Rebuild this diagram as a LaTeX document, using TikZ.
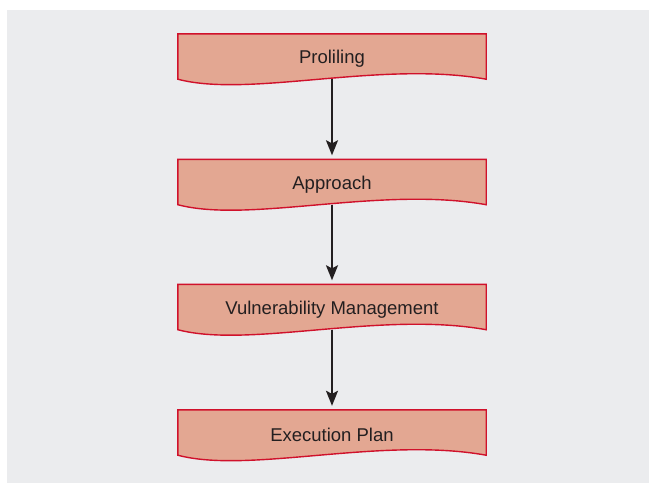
\documentclass[tikz,border=0pt]{standalone}
\usepackage{fontspec}
\setmainfont{Liberation Sans}
\usetikzlibrary{arrows.meta}
\definecolor{bggray}{HTML}{EBECEE}
\definecolor{boxfill}{HTML}{E3A792}
\definecolor{boxline}{HTML}{D0112B}
\definecolor{txt}{HTML}{231F20}
\tikzset{
  docbox/.style={draw=none, minimum width=308pt, minimum height=45pt, inner sep=0pt,
    font=\fontsize{18.5}{22}\selectfont, text=txt},
  doclabel/.style={docbox, yshift=-2.5pt},
  docshape/.style={fill=boxfill, draw=boxline, line width=1.4pt, line join=miter},
  flow/.style={draw=txt, line width=1.8pt, -{Stealth[length=15pt,width=12pt,inset=3pt]}, shorten >=4pt}
}
\newcommand{\docpath}[1]{%
  \path[docshape] (#1.south west) -- (#1.north west) -- (#1.north east) -- (#1.south east)
    .. controls ([xshift=-106pt,yshift=19pt]#1.south east) and ([xshift=72pt,yshift=-19pt]#1.south west) .. (#1.south west) -- cycle;}
\begin{document}
\begin{tikzpicture}[x=1pt,y=-1pt]
\useasboundingbox (0,0) rectangle (650,483);
\fill[bggray] (7,10) rectangle (649,483);
\node[docbox] (b1) at (332,56.5) {};
\node[docbox] (b2) at (332,182) {};
\node[docbox] (b3) at (332,307) {};
\node[docbox] (b4) at (332,432.5) {};
\docpath{b1}
\docpath{b2}
\docpath{b3}
\docpath{b4}
\node[doclabel] (t1) at (b1) {Proliling};
\node[doclabel] (t2) at (b2) {Approach};
\node[doclabel] (t3) at (b3) {Vulnerability Management};
\node[doclabel] (t4) at (b4) {Execution Plan};
\draw[flow] (b1.south) -- (b2.north);
\draw[flow] (b2.south) -- (b3.north);
\draw[flow] (b3.south) -- (b4.north);
\end{tikzpicture}
\end{document}
